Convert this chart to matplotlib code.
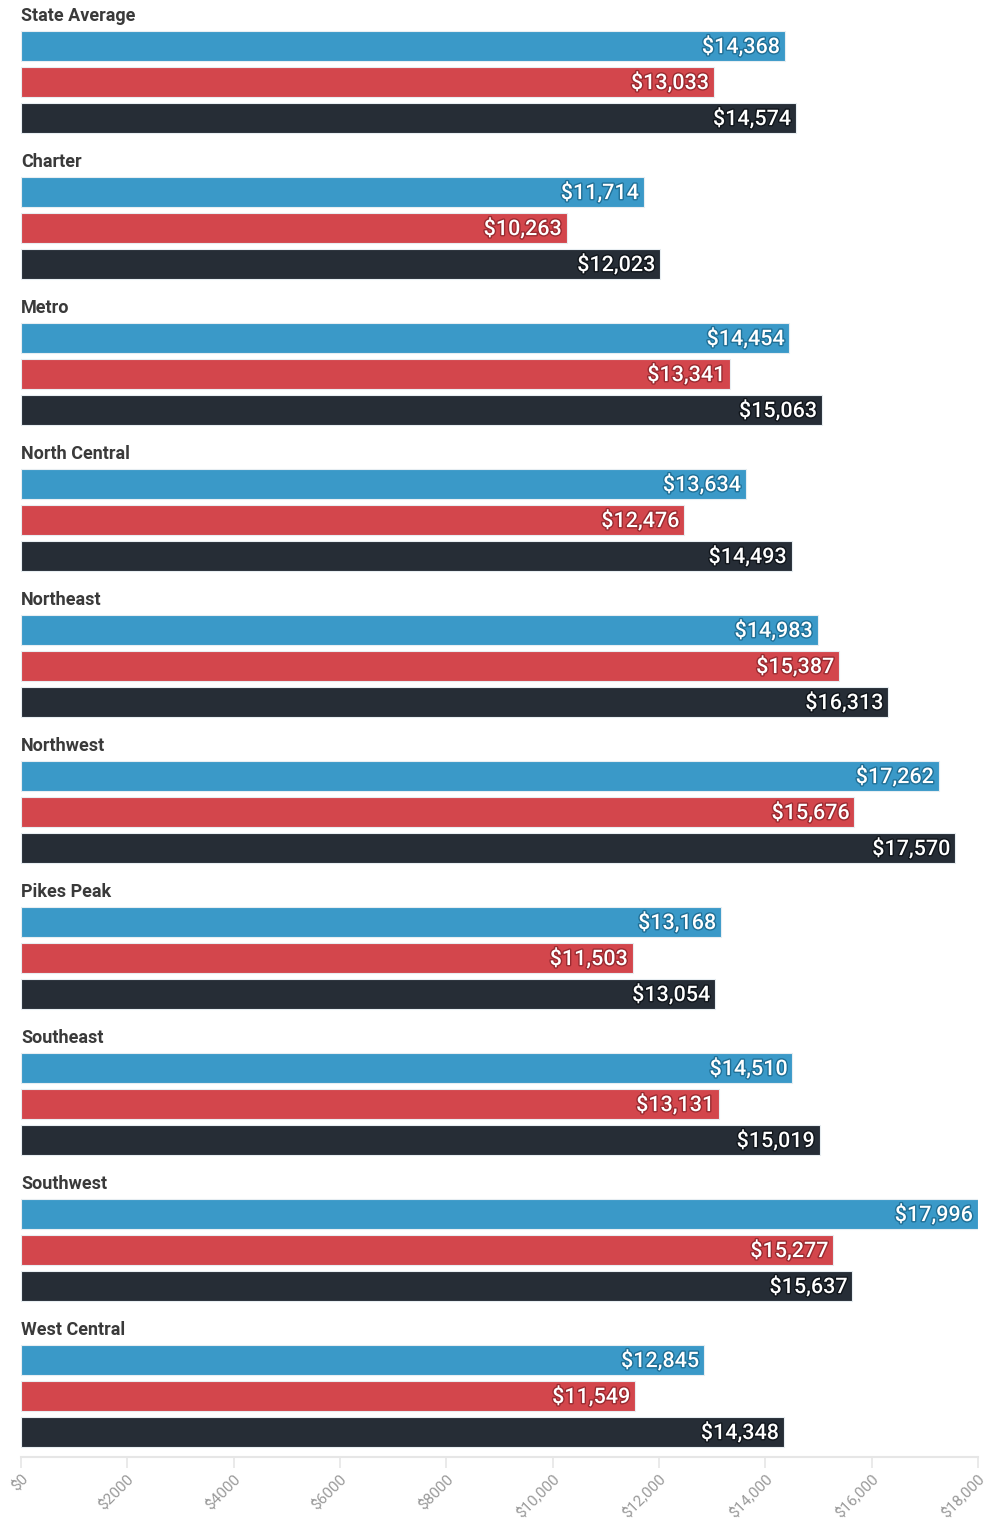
import numpy as np
import matplotlib.pyplot as plt
import matplotlib.patheffects as pe
from matplotlib.ticker import FuncFormatter

plt.rcParams['font.family'] = ['Roboto', 'DejaVu Sans']

# Per-pupil spending by region, three series per region
regions = ["State Average", "Charter", "Metro", "North Central", "Northeast",
           "Northwest", "Pikes Peak", "Southeast", "Southwest", "West Central"]
series_a = [14368, 11714, 14454, 13634, 14983, 17262, 13168, 14510, 17996, 12845]
series_b = [13033, 10263, 13341, 12476, 15387, 15676, 11503, 13131, 15277, 11549]
series_c = [14574, 12023, 15063, 14493, 16313, 17570, 13054, 15019, 15637, 14348]
ticks = [0, 2000, 4000, 6000, 8000, 10000, 12000, 14000, 16000, 18000]

colors = ["#3a99c8", "#d3464c", "#262d36"]
shadow = ["#1f6f96", "#9a2a30", "#10151b"]

W, H = 985, 1520
fig = plt.figure(figsize=(W / 100, H / 100), dpi=100)
ax = fig.add_axes([21 / W, 1 - 1457 / H, (978 - 21) / W, 1457 / H])

group_step = 146
bar_step = 36
bar_h = 30
first_bar = 46

for g, name in enumerate(regions):
    base = first_bar + g * group_step
    ax.text(0, base - 30, name, fontsize=13, fontweight='bold', color="#3a3a3a",
            ha='left', va='center')
    for s, vals in enumerate([series_a, series_b, series_c]):
        y = base + s * bar_step
        v = vals[g]
        ax.barh(y, v, height=bar_h, color=colors[s], edgecolor="#e8eef2",
                linewidth=0.8, zorder=2)
        t = ax.text(v - 90, y + 1, "${:,}".format(v), fontsize=15.5, fontweight='medium',
                    color="white", ha='right', va='center', zorder=3)
        t.set_path_effects([pe.withStroke(linewidth=2, foreground=shadow[s])])

ax.set_xlim(0, 18000)
ax.set_ylim(1457, 0)
ax.set_yticks([])
ax.set_xticks(ticks)
ax.xaxis.set_major_formatter(FuncFormatter(
    lambda x, p: "$" + ("{:,}".format(int(x)) if x >= 10000 else str(int(x)))))
for side in ['top', 'right', 'left']:
    ax.spines[side].set_visible(False)
ax.spines['bottom'].set_color("#e6e6e6")
ax.spines['bottom'].set_linewidth(1.5)
ax.tick_params(axis='x', colors="#e6e6e6", length=8, width=1.2, pad=3)
for lbl in ax.get_xticklabels():
    lbl.set_color("#999999")
    lbl.set_fontsize(11)
    lbl.set_rotation(45)
    lbl.set_ha('right')
    lbl.set_rotation_mode('anchor')

fig.savefig("out.png", dpi=100)
